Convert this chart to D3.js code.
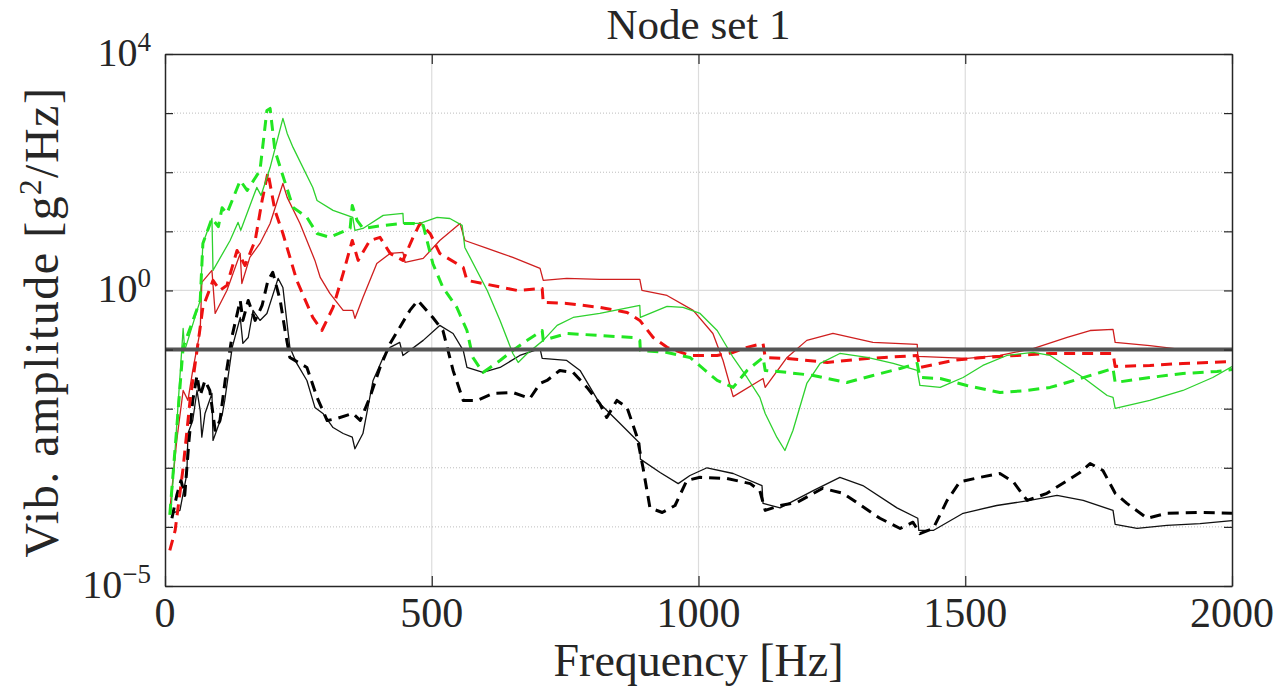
<!DOCTYPE html>
<html lang="en">
<head>
  <meta charset="UTF-8" />
  <title>Node set 1</title>
  <script src="https://d3js.org/d3.v7.min.js"></script>
  <style>
    html, body {
      margin: 0;
      padding: 0;
      background: white;
      overflow: hidden;
    }
  </style>
</head>
<body>
  <svg id="chart" width="1276" height="691"></svg>

  <script>
    // frequency [Hz], amplitude [g^2/Hz]
    const greenSolid = [[11,1.7e-4],[34,0.227],[37,0.097],[66,0.678],[71,6.24],[88,16.5],[90,2.18],[122,7.0],[137,14.2],[142,10.4],[172,55.3],[180,40.5],[197,120],[221,813],[229,453],[240,263],[277,55.3],[285,33.3],[315,22.6],[352,17.2],[356,10.4],[371,11.2],[409,18.6],[446,20.1],[447,13.6],[478,13.6],[510,17.2],[534,16.5],[557,12.6],[562,5.34],[604,1.0],[628,0.311],[652,0.0859],[662,0.0605],[679,0.0859],[709,0.143],[735,0.256],[765,0.349],[815,0.408],[890,0.557],[891,0.349],[941,0.536],[971,0.516],[1003,0.408],[1035,0.210],[1065,0.0735],[1091,0.0337],[1115,0.0155],[1125,0.0083],[1147,0.00326],[1162,0.00196],[1177,0.00428],[1203,0.0267],[1228,0.0582],[1265,0.0859],[1316,0.0735],[1365,0.0582],[1410,0.0443],[1415,0.0247],[1453,0.0229],[1496,0.0337],[1533,0.0538],[1578,0.0794],[1627,0.0893],[1659,0.0794],[1721,0.0337],[1766,0.0167],[1777,0.0155],[1781,0.0101],[1846,0.0138],[1908,0.0203],[1964,0.0337],[2000,0.0518]];

    const greenDashed = [[9,1.6e-4],[34,0.109],[66,0.678],[71,6.24],[88,16.5],[100,12],[107,25],[116,20],[141,72.6],[154,49.2],[178,107],[191,1111],[197,1200],[206,234],[219,99],[240,25.4],[266,17.2],[285,9.2],[309,7.9],[347,11.2],[351,27.4],[360,15.3],[371,11.2],[409,12.6],[446,13.6],[465,13.6],[484,12.6],[502,2.86],[521,1.12],[547,0.516],[566,0.210],[577,0.0735],[596,0.041],[628,0.0654],[652,0.0966],[679,0.143],[707,0.210],[709,0.143],[753,0.187],[815,0.173],[877,0.160],[890,0.143],[891,0.0966],[941,0.0893],[984,0.0735],[1035,0.030],[1065,0.0229],[1091,0.0443],[1121,0.0735],[1125,0.0443],[1166,0.041],[1215,0.0365],[1278,0.0277],[1327,0.0365],[1378,0.0479],[1410,0.0582],[1415,0.0337],[1453,0.0324],[1503,0.0247],[1565,0.0188],[1616,0.0203],[1659,0.0229],[1691,0.0277],[1753,0.041],[1777,0.0479],[1781,0.0277],[1846,0.0337],[1908,0.0394],[1972,0.0426],[2000,0.046]];

    const redSolid = [[9,1.9e-4],[22,2.9e-3],[34,0.0203],[43,0.0138],[52,0.0443],[66,0.210],[69,1.37],[88,2.18],[94,0.408],[116,1.0],[141,4.23],[144,1.31],[159,3.62],[178,6.24],[197,13.6],[221,64.6],[229,37.5],[253,13.6],[281,3.22],[291,1.66],[309,0.89],[334,0.459],[352,0.459],[356,0.336],[371,0.761],[397,2.86],[422,4.23],[446,4.4],[450,2.98],[484,3.48],[515,7.0],[553,13.6],[562,7.0],[604,5.14],[652,3.62],[703,2.36],[709,1.48],[753,1.6],[815,1.54],[890,1.54],[894,1.0],[941,0.823],[990,0.459],[1027,0.187],[1046,0.0654],[1065,0.016],[1121,0.0324],[1125,0.0229],[1166,0.0735],[1203,0.143],[1252,0.187],[1327,0.132],[1410,0.122],[1411,0.0764],[1503,0.0707],[1565,0.0794],[1627,0.104],[1691,0.160],[1734,0.210],[1777,0.219],[1781,0.132],[1846,0.117],[1908,0.1],[2000,0.0966]];

    const redDashed = [[9,4.0e-5],[19,8.7e-5],[34,1.0e-3],[47,0.0138],[60,0.0966],[71,0.516],[90,1.48],[103,1.0],[116,1.22],[135,4.75],[150,2.65],[169,7.0],[182,33.3],[193,99],[206,22.6],[221,9.2],[247,1.48],[277,0.349],[294,0.210],[315,0.516],[334,1.94],[351,7.0],[362,3.22],[384,7.0],[403,7.9],[422,4.23],[446,3.22],[465,7.9],[478,13.6],[497,9.2],[515,4.23],[559,2.45],[566,1.48],[596,1.31],[660,1.0],[707,1.08],[709,0.627],[753,0.603],[815,0.516],[866,0.425],[890,0.311],[915,0.160],[941,0.109],[984,0.0794],[1035,0.0794],[1065,0.0893],[1091,0.109],[1121,0.127],[1125,0.0735],[1166,0.0707],[1241,0.0605],[1316,0.0707],[1410,0.0794],[1415,0.0498],[1477,0.0654],[1533,0.0735],[1597,0.0794],[1659,0.0859],[1777,0.0859],[1781,0.0518],[1846,0.0538],[1908,0.0582],[2000,0.0629]];

    const blackSolid = [[13,1.7e-4],[28,1.9e-4],[41,8.0e-4],[43,3.8e-3],[52,6.3e-3],[60,0.0203],[66,9.3e-3],[69,3.3e-3],[75,8.3e-3],[88,0.0181],[90,2.9e-3],[107,7.7e-3],[112,0.0138],[126,0.109],[141,0.349],[146,0.127],[156,0.160],[165,0.459],[178,0.311],[191,0.408],[212,1.6],[221,1.12],[234,0.109],[247,0.0582],[266,0.030],[281,0.0105],[296,8.3e-3],[315,4.8e-3],[334,3.8e-3],[351,3.3e-3],[356,2.1e-3],[371,3.8e-3],[390,0.030],[409,0.0735],[422,0.109],[440,0.132],[446,0.0794],[484,0.143],[515,0.256],[540,0.187],[559,0.0966],[566,0.0498],[596,0.041],[628,0.0498],[665,0.0794],[703,0.104],[707,0.0707],[753,0.0654],[778,0.0443],[815,0.0122],[853,5.6e-3],[890,2.6e-3],[891,1.4e-3],[928,8.3e-4],[962,5.4e-4],[984,7.4e-4],[1016,1.0e-3],[1065,8.0e-4],[1119,5.0e-4],[1121,2.5e-4],[1153,2.1e-4],[1215,4.1e-4],[1265,6.9e-4],[1308,5.0e-4],[1372,2.1e-4],[1411,1.4e-4],[1413,8.7e-5],[1440,8.7e-5],[1496,1.7e-4],[1559,2.3e-4],[1621,2.8e-4],[1672,3.4e-4],[1721,2.8e-4],[1777,1.9e-4],[1781,1.1e-4],[1822,9.4e-5],[1878,1.06e-4],[1940,1.14e-4],[2000,1.28e-4]];

    const blackDashed = [[13,1.4e-4],[22,3.4e-4],[30,6.1e-4],[37,3.4e-4],[45,2.9e-3],[52,0.0138],[60,0.0365],[66,0.0167],[75,0.030],[84,0.0203],[94,4.3e-3],[103,6.3e-3],[114,0.0365],[126,0.173],[141,0.678],[146,0.311],[156,0.678],[169,0.311],[182,0.557],[193,1.48],[202,2.02],[216,0.678],[225,0.210],[234,0.0735],[266,0.0498],[285,0.0155],[304,6.3e-3],[322,6.8e-3],[352,8.3e-3],[366,6.3e-3],[384,0.0155],[403,0.0498],[422,0.127],[440,0.237],[459,0.459],[474,0.678],[502,0.349],[521,0.210],[540,0.0443],[559,0.0138],[585,0.0138],[615,0.0181],[652,0.0188],[684,0.0149],[703,0.0267],[716,0.030],[740,0.0443],[765,0.041],[791,0.0229],[815,0.0122],[828,7.1e-3],[847,0.0138],[866,0.0105],[885,3.3e-3],[896,1.0e-3],[909,2.1e-4],[932,1.75e-4],[956,2.3e-4],[978,6.1e-4],[1003,6.9e-4],[1053,6.6e-4],[1097,5.4e-4],[1115,4.1e-4],[1125,1.9e-4],[1153,2.3e-4],[1185,2.6e-4],[1233,4.5e-4],[1271,3.7e-4],[1340,1.4e-4],[1378,9.4e-5],[1402,1.2e-4],[1415,7.7e-5],[1440,9.4e-5],[1466,2.8e-4],[1490,5.8e-4],[1528,6.9e-4],[1565,8.0e-4],[1590,5.8e-4],[1616,2.8e-4],[1653,3.7e-4],[1715,8.3e-4],[1734,1.18e-3],[1758,9.0e-4],[1781,3.7e-4],[1803,2.5e-4],[1841,1.4e-4],[1878,1.7e-4],[1940,1.75e-4],[2000,1.7e-4]];

    const refLevel = 0.1;

    const xTicks = [0, 500, 1000, 1500, 2000];
    const yDecades = [1e-5, 1e-4, 1e-3, 1e-2, 1e-1, 1e0, 1e1, 1e2, 1e3, 1e4];
    const yLabelTicks = [1e4, 1e0, 1e-5];
    const yLabelExp = ["4", "0", "\u22125"];

    const title = "Node set 1";
    const xTitle = "Frequency [Hz]";

    const FONT = "'Liberation Serif', 'DejaVu Serif', serif";
    const textColor = "#262626";

    const margin = { top: 54, right: 44, bottom: 105, left: 165 };
    const width = 1276 - margin.left - margin.right;
    const height = 691 - margin.top - margin.bottom;

    const svg = d3.select("#chart");
    svg.append("rect").attr("width", 1276).attr("height", 691).attr("fill", "white");

    const x = d3.scaleLinear().domain([0, 2000]).range([0, width]);
    const y = d3.scaleLog().domain([1e-5, 1e4]).range([height, 0]);

    const g = svg.append("g").attr("transform", `translate(${margin.left},${margin.top})`);

    svg.append("defs").append("clipPath").attr("id", "plotclip")
      .append("rect").attr("width", width).attr("height", height);

    // grid
    g.selectAll("line.vgrid")
      .data(xTicks.slice(1, -1))
      .enter().append("line")
      .attr("class", "vgrid")
      .attr("x1", d => x(d)).attr("x2", d => x(d))
      .attr("y1", 0).attr("y2", height)
      .attr("stroke", "#dcdcdc").attr("stroke-width", 1.2);

    g.selectAll("line.hgrid")
      .data(yDecades.slice(1, -1))
      .enter().append("line")
      .attr("class", "hgrid")
      .attr("x1", 0).attr("x2", width)
      .attr("y1", d => y(d)).attr("y2", d => y(d))
      .attr("stroke", d => d === 1 ? "#dcdcdc" : "#bdbdbd")
      .attr("stroke-width", d => d === 1 ? 1.2 : 1)
      .attr("stroke-dasharray", d => d === 1 ? null : "1,2");

    // curves
    const line = d3.line().x(d => x(d[0])).y(d => y(d[1]));
    const series = [
      { data: blackSolid, color: "#111111", w: 1.3, dash: null },
      { data: blackDashed, color: "#000000", w: 3, dash: "11,7" },
      { data: redSolid, color: "#cf1f1f", w: 1.3, dash: null },
      { data: redDashed, color: "#ee1111", w: 3, dash: "11,7" },
      { data: greenSolid, color: "#2ed12e", w: 1.3, dash: null },
      { data: greenDashed, color: "#22e622", w: 3, dash: "11,7" }
    ];

    const curves = g.append("g").attr("clip-path", "url(#plotclip)");
    series.forEach(s => {
      curves.append("path")
        .datum(s.data)
        .attr("d", line)
        .attr("fill", "none")
        .attr("stroke", s.color)
        .attr("stroke-width", s.w)
        .attr("stroke-dasharray", s.dash)
        .attr("stroke-linejoin", "round");
    });

    // reference level
    g.append("line")
      .attr("x1", 0).attr("x2", width)
      .attr("y1", y(refLevel)).attr("y2", y(refLevel))
      .attr("stroke", "#555555").attr("stroke-width", 4);

    // axes (ticks inward, box all round)
    const axisColor = "#262626";
    const styleAxis = sel => {
      sel.select(".domain").attr("stroke", axisColor).attr("stroke-width", 1.5);
      sel.selectAll(".tick line").attr("stroke", axisColor).attr("stroke-width", 1.2);
    };

    g.append("g").attr("transform", `translate(0,${height})`)
      .call(d3.axisBottom(x).tickValues(xTicks).tickSize(-10).tickSizeOuter(0).tickFormat(""))
      .call(styleAxis);
    g.append("g")
      .call(d3.axisTop(x).tickValues(xTicks).tickSize(-10).tickSizeOuter(0).tickFormat(""))
      .call(styleAxis);
    g.append("g")
      .call(d3.axisLeft(y).tickValues(yDecades).tickSize(-8).tickSizeOuter(0).tickFormat(""))
      .call(styleAxis);
    g.append("g").attr("transform", `translate(${width},0)`)
      .call(d3.axisRight(y).tickValues(yDecades).tickSize(-8).tickSizeOuter(0).tickFormat(""))
      .call(styleAxis);

    // x tick labels
    g.selectAll("text.xlab")
      .data(xTicks)
      .enter().append("text")
      .attr("class", "xlab")
      .attr("x", d => x(d))
      .attr("y", height + 41)
      .attr("text-anchor", "middle")
      .attr("font-family", FONT)
      .attr("fill", textColor)
      .style("font-size", "42px")
      .text(d => d);

    // y tick labels 10^n
    yLabelTicks.forEach((v, i) => {
      const t = g.append("text")
        .attr("x", -14)
        .attr("y", y(v) + 12)
        .attr("text-anchor", "end")
        .attr("font-family", FONT)
        .attr("fill", textColor)
        .style("font-size", "40px");
      t.append("tspan").text("10");
      t.append("tspan").attr("dy", -15).style("font-size", "27px").text(yLabelExp[i]);
    });

    // titles
    svg.append("text")
      .attr("x", margin.left + width / 2)
      .attr("y", 39)
      .attr("text-anchor", "middle")
      .attr("font-family", FONT)
      .attr("fill", textColor)
      .style("font-size", "43px")
      .text(title);

    svg.append("text")
      .attr("x", margin.left + width / 2)
      .attr("y", 676)
      .attr("text-anchor", "middle")
      .attr("font-family", FONT)
      .attr("fill", textColor)
      .style("font-size", "46px")
      .text(xTitle);

    const yt = svg.append("text")
      .attr("transform", `translate(58,${margin.top + height / 2 + 2}) rotate(-90)`)
      .attr("text-anchor", "middle")
      .attr("font-family", FONT)
      .attr("fill", textColor)
      .style("font-size", "48px")
      .style("letter-spacing", "1.5px");
    yt.append("tspan").text("Vib. amplitude [g");
    yt.append("tspan").attr("dy", -17).style("font-size", "31px").text("2");
    yt.append("tspan").attr("dy", 17).text("/Hz]");
  </script>
</body>
</html>
